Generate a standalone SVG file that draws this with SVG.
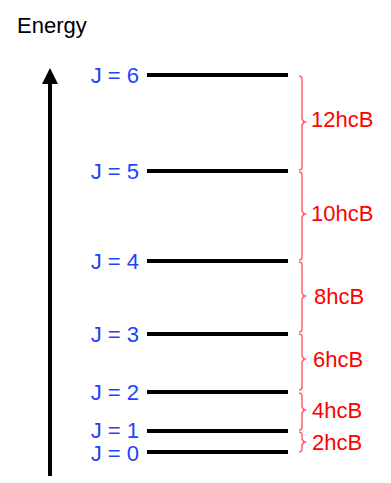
<svg xmlns="http://www.w3.org/2000/svg" width="391" height="483" viewBox="0 0 391 483">
<style>
text{font-family:"Liberation Sans",Arial,sans-serif;font-size:22px}
.j{fill:#1a44ff;text-anchor:end}
.e{fill:#ff0000}
.lvl{stroke:#000;stroke-width:4}
.br{fill:none;stroke:#ff6666;stroke-width:1.5}
</style>
<rect width="391" height="483" fill="#fff"/>
<text x="17" y="33" fill="#000">Energy</text>
<g id="axis">
<line x1="50" y1="476" x2="50" y2="80" stroke="#000" stroke-width="4"/>
<polygon points="50,68 58,84 42,84" fill="#000"/>
</g>
<g id="levels">
<g id="J6"><line class="lvl" x1="147" y1="75" x2="288" y2="75"/><text class="j" x="139" y="83">J = 6</text></g>
<g id="J5"><line class="lvl" x1="147" y1="171" x2="288" y2="171"/><text class="j" x="139" y="179">J = 5</text></g>
<g id="J4"><line class="lvl" x1="147" y1="261" x2="288" y2="261"/><text class="j" x="139" y="269">J = 4</text></g>
<g id="J3"><line class="lvl" x1="147" y1="334" x2="288" y2="334"/><text class="j" x="139" y="342">J = 3</text></g>
<g id="J2"><line class="lvl" x1="147" y1="392" x2="288" y2="392"/><text class="j" x="139" y="400">J = 2</text></g>
<g id="J1"><line class="lvl" x1="147" y1="431" x2="288" y2="431"/><text class="j" x="139" y="438">J = 1</text></g>
<g id="J0"><line class="lvl" x1="147" y1="452" x2="288" y2="452"/><text class="j" x="139" y="461">J = 0</text></g>
</g>
<g id="gaps">
<g id="g12"><path class="br" d="M299 76 q3 0 3 3 V118 q0 3 3 4 q-3 1 -3 4 V167 q0 3 -3 3"/><text class="e" x="311" y="127">12hcB</text></g>
<g id="g10"><path class="br" d="M299 172 q3 0 3 3 V210 q0 3 3 4 q-3 1 -3 4 V257 q0 3 -3 3"/><text class="e" x="311" y="221">10hcB</text></g>
<g id="g8"><path class="br" d="M299 262 q3 0 3 3 V292 q0 3 3 4 q-3 1 -3 4 V329 q0 3 -3 3"/><text class="e" x="314" y="304">8hcB</text></g>
<g id="g6"><path class="br" d="M299 334 q3 0 3 3 V355 q0 3 3 4 q-3 1 -3 4 V387 q0 3 -3 3"/><text class="e" x="313" y="367">6hcB</text></g>
<g id="g4"><path class="br" d="M299 393 q3 0 3 3 V406 q0 3 3 4 q-3 1 -3 4 V427 q0 3 -3 3"/><text class="e" x="312" y="418">4hcB</text></g>
<g id="g2"><path class="br" d="M299 432 q3 0 3 3 V438 q0 3 3 4 q-3 1 -3 4 V449 q0 3 -3 3"/><text class="e" x="312" y="450">2hcB</text></g>
</g>
</svg>
